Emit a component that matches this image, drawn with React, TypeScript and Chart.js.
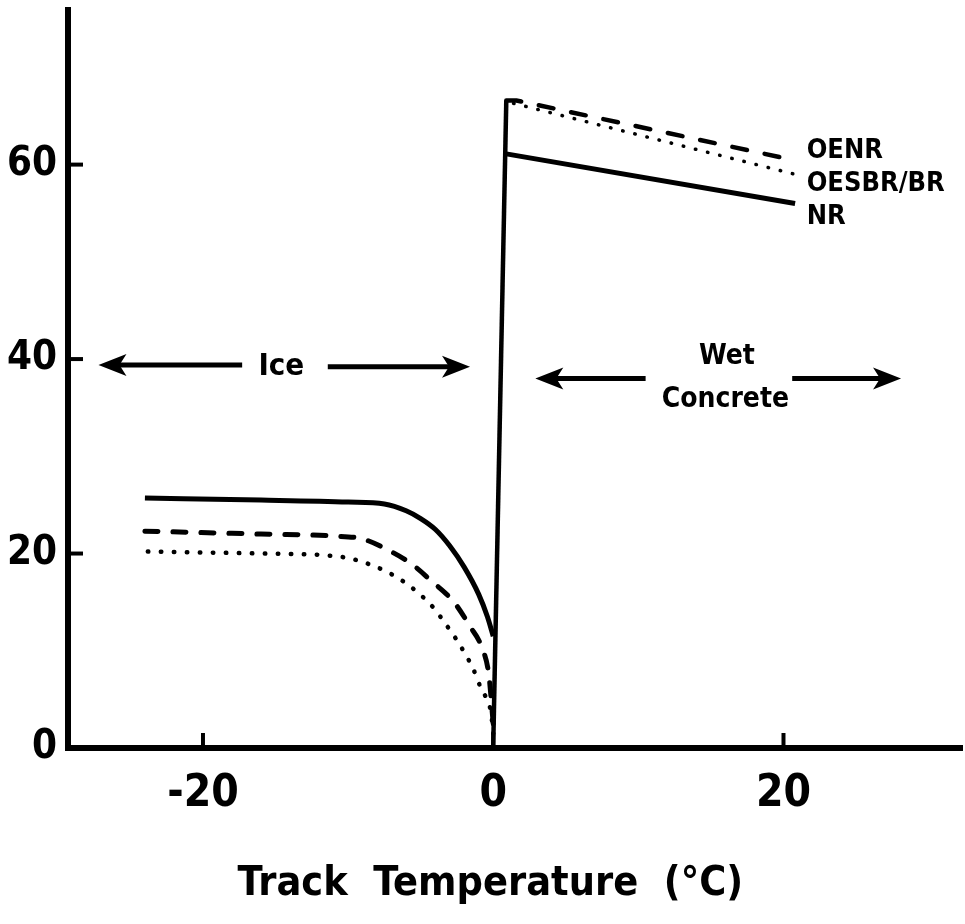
import React, { useEffect, useRef } from "react";
import { Chart, registerables } from "chart.js";

Chart.register(...registerables);

const FONT = '"DejaVu Sans Condensed", "Liberation Sans Narrow", "DejaVu Sans", sans-serif';

// Axis ticks
const xTicks = [-20, 0, 20];
const yTicks = [0, 20, 40, 60];
const xTitle = "Track  Temperature  (°C)";

// Ice region (below 0 °C)
const nrIceX = [-24, -16, -10, -7.5, -6, -5, -4, -3, -2, -1, -0.4, 0];
const nrIceY = [25.7, 25.5, 25.3, 25.1, 24.4, 23.6, 22.5, 20.8, 18.6, 15.8, 13.5, 11.5];

const oenrIceX = [-24, -16, -11, -9, -7.3, -5.7, -4.2, -2.7, -1.6, -0.8, -0.3, 0];
const oenrIceY = [22.3, 22.0, 21.8, 21.5, 20.4, 19.0, 17.1, 15.0, 12.5, 10.4, 7.5, 2.5];

const oesbrIceX = [-23.8, -16, -11.4, -9.6, -7.3, -5.7, -4.1, -3.4, -2.6, -1.9, -1.4, -0.8, -0.4, -0.15, 0];
const oesbrIceY = [20.2, 20.0, 19.8, 19.4, 18.1, 16.6, 14.4, 13.0, 11.3, 9.6, 8.2, 6.0, 4.9, 3.6, 1.5];

// Wet concrete region (above 0 °C)
const nrWetX = [0.9, 20.8];
const nrWetY = [61.1, 56.0];
const oenrWetX = [0.9, 1.6, 20.9];
const oenrWetY = [66.6, 66.6, 60.4];
const oesbrWetX = [1.4, 20.8];
const oesbrWetY = [66.3, 59.0];

// Ice / wet boundary
const boundaryX = [0, 0.9];
const boundaryY = [0.3, 66.6];

// Series labels at right
const seriesLabels = ["OENR", "OESBR/BR", "NR"];
const seriesLabelY = [61.4, 58.0, 54.6];
const seriesLabelX = 21.6;

const pts = (xs: number[], ys: number[]) => xs.map((x, i) => ({ x, y: ys[i] }));

const overlay = {
  id: "overlay",
  afterDatasetsDraw(chart: any) {
    const { ctx, chartArea } = chart;
    const xs = chart.scales.x;
    const ys = chart.scales.y;
    const X = (v: number) => xs.getPixelForValue(v);
    const Y = (v: number) => ys.getPixelForValue(v);
    ctx.save();
    ctx.strokeStyle = "#000";
    ctx.fillStyle = "#000";
    // inward ticks
    ctx.lineWidth = 4;
    ctx.lineCap = "butt";
    yTicks.filter((v) => v > 0).forEach((v) => {
      ctx.beginPath();
      ctx.moveTo(chartArea.left, Y(v));
      ctx.lineTo(chartArea.left + 15, Y(v));
      ctx.stroke();
    });
    xTicks.forEach((v) => {
      ctx.beginPath();
      ctx.moveTo(X(v), chartArea.bottom);
      ctx.lineTo(X(v), chartArea.bottom - 15);
      ctx.stroke();
    });

    const arrow = (x0: number, x1: number, yv: number) => {
      const p0 = X(x0), p1 = X(x1), py = Y(yv);
      const dir = Math.sign(p1 - p0);
      const head = 28;
      ctx.lineWidth = 5;
      ctx.beginPath();
      ctx.moveTo(p0, py);
      ctx.lineTo(p1 - dir * head * 0.6, py);
      ctx.stroke();
      ctx.beginPath();
      ctx.moveTo(p1, py);
      ctx.lineTo(p1 - dir * head, py - 11);
      ctx.lineTo(p1 - dir * head * 0.75, py);
      ctx.lineTo(p1 - dir * head, py + 11);
      ctx.closePath();
      ctx.fill();
    };
    arrow(-17.3, -27.2, 39.4);
    arrow(-11.4, -1.6, 39.2);
    arrow(10.5, 2.9, 38.0);
    arrow(20.6, 28.1, 38.0);

    ctx.textAlign = "center";
    ctx.textBaseline = "middle";
    ctx.font = `bold 31px ${FONT}`;
    ctx.fillText("Ice", X(-14.6), Y(39.2));
    ctx.font = `bold 28px ${FONT}`;
    ctx.fillText("Wet", X(16.1), Y(40.2));
    ctx.fillText("Concrete", X(16.0), Y(35.8));

    ctx.textAlign = "left";
    ctx.font = `bold 27px ${FONT}`;
    seriesLabels.forEach((t, i) => ctx.fillText(t, X(seriesLabelX), Y(seriesLabelY[i])));

    // x-axis title
    ctx.textAlign = "center";
    ctx.textBaseline = "middle";
    ctx.font = `bold 41px ${FONT}`;
    ctx.fillText(xTitle, X(-0.2), chartArea.bottom + 136);
    ctx.restore();
  },
};

export default function App() {
  const ref = useRef<HTMLCanvasElement | null>(null);
  useEffect(() => {
    document.body.style.margin = "0";
    if (!ref.current) return;
    const solid = { borderColor: "#000", borderWidth: 5, pointRadius: 0, fill: false, cubicInterpolationMode: "monotone" as const };
    const chart = new Chart(ref.current, {
      type: "line",
      data: {
        datasets: [
          { ...solid, label: "NR ice", data: pts(nrIceX, nrIceY) },
          { ...solid, label: "OENR ice", data: pts(oenrIceX, oenrIceY), borderDash: [13, 15], borderCapStyle: "round" },
          { ...solid, label: "OESBR ice", data: pts(oesbrIceX, oesbrIceY), borderWidth: 4.5, borderDash: [0.5, 12.5], borderCapStyle: "round" },
          { ...solid, label: "NR wet", data: pts(nrWetX, nrWetY), cubicInterpolationMode: "default", tension: 0 },
          { ...solid, label: "OENR wet", data: pts(oenrWetX, oenrWetY), borderWidth: 4.5, borderDash: [15, 18], borderCapStyle: "round", cubicInterpolationMode: "default", tension: 0 },
          { ...solid, label: "OESBR wet", data: pts(oesbrWetX, oesbrWetY), borderWidth: 3.5, borderDash: [0.5, 12], borderCapStyle: "round", cubicInterpolationMode: "default", tension: 0 },
          { ...solid, label: "boundary", data: pts(boundaryX, boundaryY), borderWidth: 4.5, cubicInterpolationMode: "default", tension: 0 },
        ],
      },
      options: {
        animation: false,
        responsive: true,
        maintainAspectRatio: false,
        layout: { padding: { top: 10, right: 3, left: 0, bottom: 0 } },
        plugins: { legend: { display: false }, tooltip: { enabled: false } },
        scales: {
          x: {
            type: "linear",
            min: -29.3,
            max: 32.3,
            afterBuildTicks: (s: any) => { s.ticks = xTicks.map((v) => ({ value: v })); },
            afterFit: (s: any) => { s.height = 176; s.paddingLeft = 0; s.paddingRight = 0; },
            grid: { display: false, drawTicks: false },
            border: { display: true, color: "#000", width: 6 },
            ticks: { color: "#000", padding: 20, maxRotation: 0, autoSkip: false, font: { family: FONT, size: 44, weight: "bold" } },
            title: { display: false },
          },
          y: {
            type: "linear",
            min: 0,
            max: 75.9,
            afterBuildTicks: (s: any) => { s.ticks = yTicks.map((v) => ({ value: v })); },
            afterFit: (s: any) => { s.width = 68; s.paddingTop = 0; s.paddingBottom = 0; },
            grid: { display: false, drawTicks: false },
            border: { display: true, color: "#000", width: 6 },
            ticks: { color: "#000", padding: 11, autoSkip: false, font: { family: FONT, size: 40, weight: "bold" } },
          },
        },
      },
      plugins: [overlay],
    });
    return () => chart.destroy();
  }, []);
  return (
    <div style={{ position: "relative", width: 965, height: 924, background: "#fff" }}>
      <canvas ref={ref} />
    </div>
  );
}
